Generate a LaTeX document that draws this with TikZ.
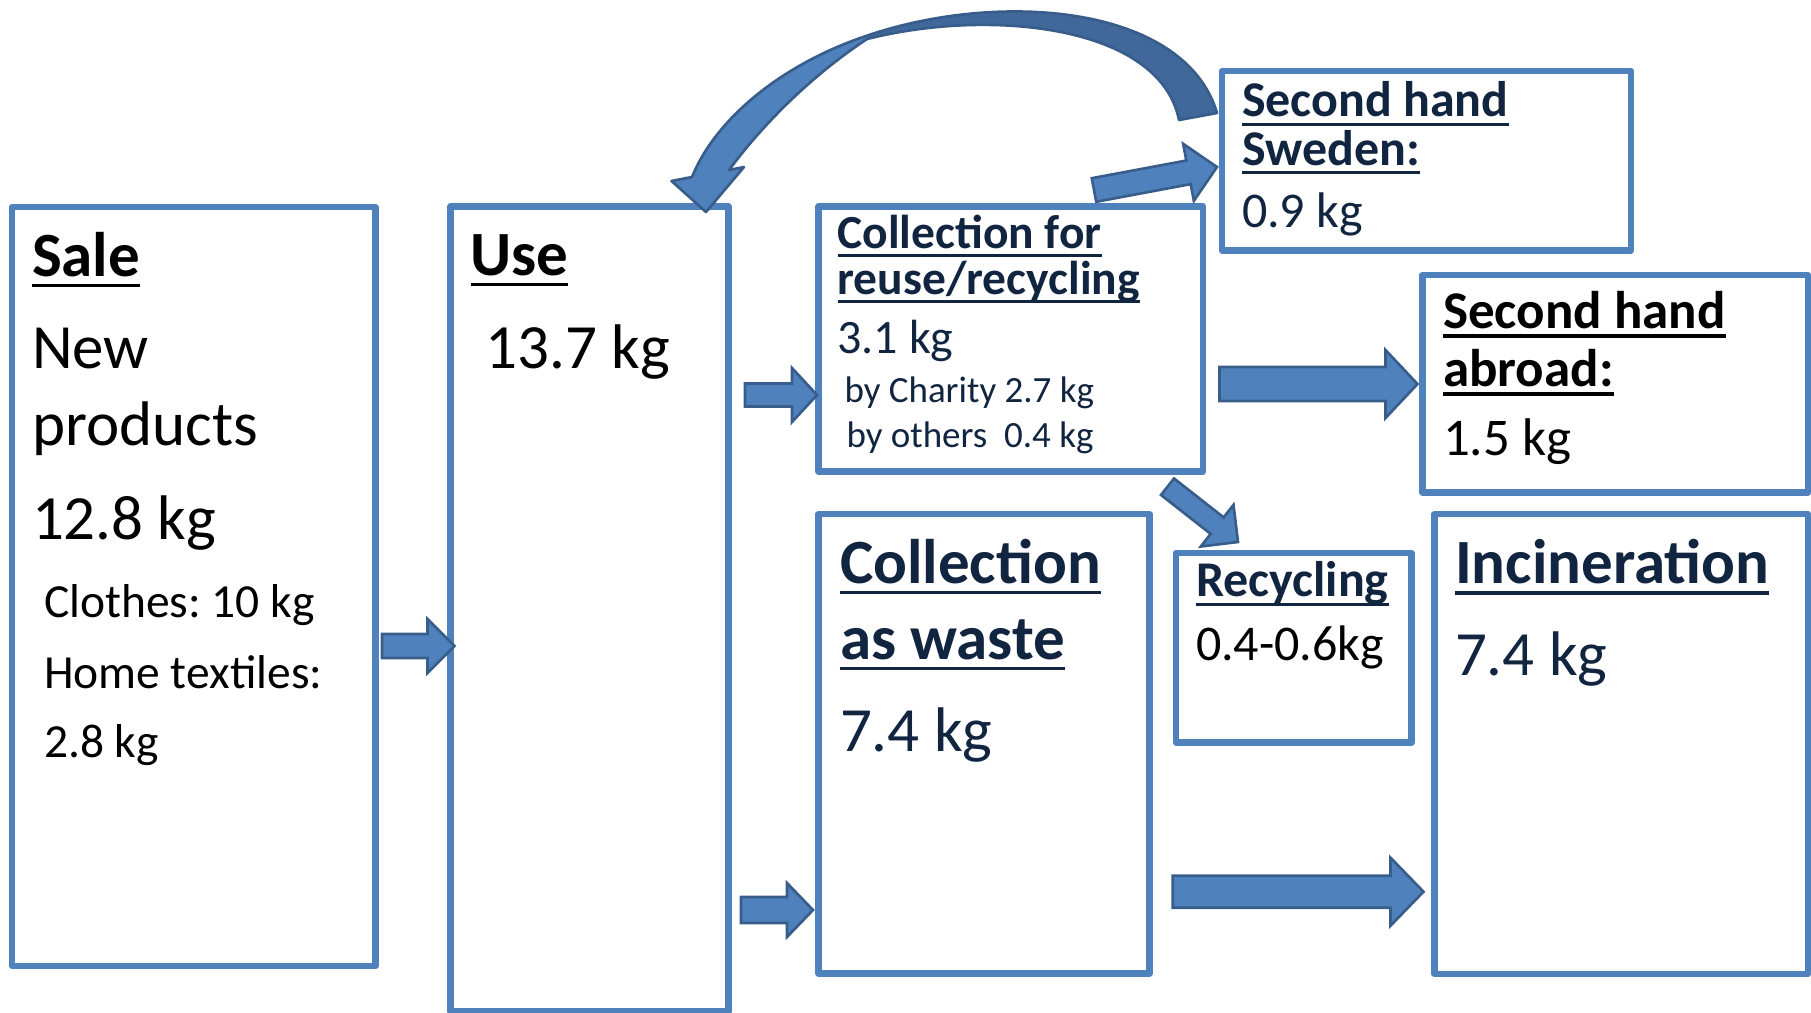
\documentclass[tikz,border=0pt]{standalone}
\usepackage{fontspec}
\setmainfont{Carlito}
\usepackage{tikz}
\usetikzlibrary{calc, positioning}
\definecolor{boxblue}{RGB}{79,129,189}
\definecolor{arrowedge}{RGB}{56,93,138}
\definecolor{arrowdark}{RGB}{64,104,155}
\definecolor{navytext}{RGB}{17,37,65}
\newlength{\px}\setlength{\px}{0.02cm}
\newcommand{\pxpt}{0.5690551pt}
\newcommand{\fs}[2]{\fontsize{#1\px}{#2\px}\selectfont}
\newcommand{\ulin}[1]{\leavevmode\setbox0\hbox{#1}\rlap{\rule[-0.18em]{\wd0}{0.06em}}\box0}
\newcommand{\boxtext}[4]{\parbox[t][#2\px][t]{#1\px}{\frenchspacing\lineskiplimit=-\maxdimen\leftskip=#3\px\relax#4}}
% block arrow: start, tip, shaft half width, head half width, head length (px)
\newcommand{\fatarrow}[5]{%
  \coordinate (fah) at ($(#2)!#5*\pxpt!(#1)$);
  \filldraw[fatarr] ($(#1)!#3*\pxpt!90:(#2)$) -- ($(fah)!#3*\pxpt!-90:(#1)$)
    -- ($(fah)!#4*\pxpt!-90:(#1)$) -- (#2) -- ($(fah)!#4*\pxpt!90:(#1)$)
    -- ($(fah)!#3*\pxpt!90:(#1)$) -- ($(#1)!#3*\pxpt!-90:(#2)$) -- cycle;}

\begin{document}
\begin{tikzpicture}[
    x=0.02cm, y=-0.02cm,
    box/.style={rectangle, draw=boxblue, line width=3.7pt, line join=round,
                inner sep=0pt, outer sep=0pt, anchor=north west, align=left},
    fatarr/.style={fill=boxblue, draw=arrowedge, line width=1.5pt, line join=miter},
]
    \useasboundingbox (0,0) rectangle (1811,1012);

    % Boxes
    \node[box] (sale) at (12,207) {\boxtext{363.5}{759}{20}{%
        \fs{63}{69}\rule{0pt}{69\px}\ulin{\textbf{Sale}}\par
        \fs{63}{92}New\par
        \fs{63}{77}products\par
        \fs{63}{94}12.8 kg\par
        \fs{47.5}{78}\hspace*{12\px}Clothes: 10 kg\par
        \fs{47.5}{71}\hspace*{12\px}Home textiles:\par
        \fs{47.5}{69}\hspace*{12\px}2.8 kg\par}};

    \node[box] (use) at (450.5,206.5) {\boxtext{278}{805}{20}{%
        \fs{63}{68.5}\rule{0pt}{68.5\px}\ulin{\textbf{Use}}\par
        \fs{63}{93}\hspace*{15\px}13.7 kg\par}};

    \node[box, text=navytext] (reuse) at (818.5,206.5) {\boxtext{384.5}{265}{19}{%
        \fs{47.5}{41.5}\rule{0pt}{41.5\px}\ulin{\textbf{Collection for}}\par
        \fs{47.5}{46}\ulin{\textbf{reuse/recycling}}\par
        \fs{48}{59}3.1 kg\par
        \fs{37}{49}\hspace*{7\px}by Charity 2.7 kg\par
        \fs{37}{45}\hspace*{9\px}by others\ \ 0.4 kg\par}};

    \node[box, text=navytext] (sweden) at (1222,71) {\boxtext{409}{179.5}{20}{%
        \fs{50}{45.7}\rule{0pt}{45.7\px}\ulin{\textbf{Second hand}}\par
        \fs{50}{48.3}\ulin{\textbf{Sweden:}}\par
        \fs{50}{62}0.9 kg\par}};

    \node[box] (abroad) at (1422.5,275) {\boxtext{385.5}{217.5}{20.5}{%
        \fs{53}{53}\rule{0pt}{53\px}\ulin{\textbf{Second hand}}\par
        \fs{53}{58}\ulin{\textbf{abroad:}}\par
        \fs{53}{69.5}1.5 kg\par}};

    \node[box, text=navytext] (waste) at (818.5,514) {\boxtext{331}{459.5}{21.5}{%
        \fs{63}{69}\rule{0pt}{69\px}\ulin{\textbf{Collection}}\par
        \fs{63}{76}\ulin{\textbf{as waste}}\par
        \fs{63}{92.5}7.4 kg\par}};

    \node[box, text=navytext] (recyc) at (1176,553) {\boxtext{235.5}{189.5}{20}{%
        \fs{50}{43.7}\rule{0pt}{43.7\px}\ulin{\textbf{Recycling}}\par
        \fs{50}{63.3}\color{black}0.4-0.6kg\par}};

    \node[box, text=navytext] (incin) at (1434.5,514) {\boxtext{373.5}{460}{20.5}{%
        \fs{63}{69.3}\rule{0pt}{69.3\px}\ulin{\textbf{Incineration}}\par
        \fs{63}{91.7}7.4 kg\par}};

    % Arrow ends
    \coordinate (saleout) at (382,646);
    \coordinate (usein) at ($(use.west |- saleout)+(4,0)$);
    \coordinate (usetoreuse) at (745,395);
    \coordinate (reusein) at ($(reuse.west |- usetoreuse)+(-1.5,0)$);
    \coordinate (usetowaste) at (741,910);
    \coordinate (wastein) at ($(waste.west |- usetowaste)+(-5.5,0)$);
    \coordinate (reusetoabroad) at (1219.5,384);
    \coordinate (abroadin) at ($(abroad.west |- reusetoabroad)+(-5,0)$);
    \coordinate (reusetoswe) at (1094,190);
    \coordinate (swedenin) at ($(sweden.north west)+(-5,96)$);
    \coordinate (reusetorec) at (1167.5,486.7);
    \coordinate (recin) at ($(recyc.north west)+(62,-11)$);
    \coordinate (wastetoinc) at (1172.7,891.7);
    \coordinate (incinin) at ($(incin.west |- wastetoinc)+(-11,0)$);

    % Block arrows
    \fatarrow{saleout}{usein}{12}{27}{27}
    \fatarrow{usetoreuse}{reusein}{11.5}{27}{25}
    \fatarrow{usetowaste}{wastein}{13}{27}{26}
    \fatarrow{reusetoabroad}{abroadin}{17}{34}{32}
    \fatarrow{reusetoswe}{swedenin}{12}{29}{29}
    \fatarrow{reusetorec}{recin}{10.5}{26.5}{26.5}
    \fatarrow{wastetoinc}{incinin}{16}{34}{33}

    % Curved arrow back to use
    \coordinate (backtail) at (1217,113);
    \coordinate (backtip) at (706,212);
    \fill[boxblue] (729,170) -- (744,167) -- (backtip) -- (671.5,181) -- (692,177)
        .. controls (715,120) and (780,65) .. (866,36)
        .. controls (1000,-10) and (1185,5) .. (backtail) -- (1179,120)
        .. controls (1160,25) and (990,8) .. (867,39)
        .. controls (820,70) and (770,115) .. cycle;
    \fill[arrowdark] (866,36) .. controls (1000,-10) and (1185,5) .. (backtail)
        -- (1179,120) .. controls (1160,25) and (990,8) .. (867,39) -- cycle;
    \draw[arrowedge, line width=1.5pt, line join=round] (729,170) -- (744,167) -- (backtip)
        -- (671.5,181) -- (692,177)
        .. controls (715,120) and (780,65) .. (866,36)
        .. controls (1000,-10) and (1185,5) .. (backtail) -- (1179,120)
        .. controls (1160,25) and (990,8) .. (867,39)
        .. controls (820,70) and (770,115) .. cycle;
\end{tikzpicture}
\end{document}
